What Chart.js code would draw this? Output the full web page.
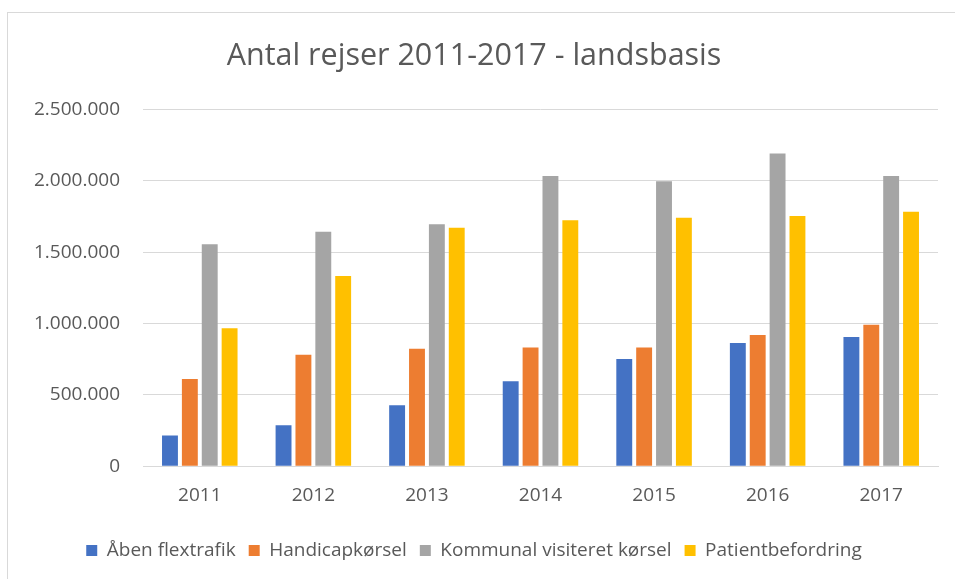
<!DOCTYPE html>
<html>
<head>
<meta charset="utf-8">
<script src="https://cdn.jsdelivr.net/npm/chart.js@4"></script>
<style>
    body { margin: 0; background: #fff; }
    #frame { position: absolute; left: 7px; top: 12px; width: 1000px; height: 600px;
             border-left: 1px solid #d9d9d9; border-top: 1px solid #d9d9d9; }
    #wrap { position: absolute; left: 0; top: 0; width: 955px; height: 579px; }
</style>
</head>
<body>
<div id="frame"></div>
<div id="wrap"><canvas id="grafico"></canvas></div>
<script>
const YEARS = ['2011', '2012', '2013', '2014', '2015', '2016', '2017'];

const aabenFlextrafik = [216000, 287000, 427000, 596000, 751000, 864000, 906000];
const handicapkoersel = [611000, 782000, 824000, 833000, 833000, 920000, 991000];
const kommunalVisiteret = [1556000, 1643000, 1697000, 2035000, 1998000, 2192000, 2035000];
const patientbefordring = [967000, 1333000, 1671000, 1725000, 1742000, 1754000, 1784000];

const Y_TICKS = [0, 500000, 1000000, 1500000, 2000000, 2500000];

const FONT = "'Open Sans', sans-serif";
const TEXT = '#595959';

// dansk tusindtalsseparator
function fmt(v) {
    return String(v).replace(/\B(?=(\d{3})+(?!\d))/g, '.');
}

function serie(label, values, color) {
    return {
        label: label,
        data: values,
        backgroundColor: color,
        borderWidth: 0,
        categoryPercentage: 0.7,
        barPercentage: 0.8
    };
}

const data = {
    labels: YEARS,
    datasets: [
        serie('Åben flextrafik', aabenFlextrafik, '#4472C4'),
        serie('Handicapkørsel', handicapkoersel, '#ED7D31'),
        serie('Kommunal visiteret kørsel', kommunalVisiteret, '#A5A5A5'),
        serie('Patientbefordring', patientbefordring, '#FFC000')
    ]
};

const CHART = document.getElementById('grafico');
new Chart(CHART, {
    type: 'bar',
    data: data,
    options: {
        responsive: true,
        maintainAspectRatio: false,
        animation: false,
        layout: { padding: { left: 10, right: 17, top: 38, bottom: 9 } },
        scales: {
            x: {
                grid: { display: false, drawTicks: false },
                border: { color: '#d9d9d9' },
                ticks: { color: TEXT, font: { family: FONT, size: 19 }, padding: 18 },
                afterFit: axis => { axis.height += 3; }
            },
            y: {
                min: 0,
                max: 2500000,
                afterBuildTicks: axis => { axis.ticks = Y_TICKS.map(v => ({ value: v })); },
                afterFit: axis => { axis.width = 133; },
                grid: { color: '#d9d9d9', drawTicks: false },
                border: { display: false },
                ticks: {
                    color: TEXT,
                    font: { family: FONT, size: 19 },
                    padding: 23,
                    callback: v => fmt(v)
                }
            }
        },
        plugins: {
            title: {
                display: true,
                text: 'Antal rejser 2011-2017 - landsbasis',
                color: TEXT,
                font: { family: FONT, size: 30.5, weight: 'normal' },
                padding: { top: 0, bottom: 35 }
            },
            legend: {
                position: 'bottom',
                labels: {
                    color: TEXT,
                    font: { family: FONT, size: 19 },
                    boxWidth: 11,
                    boxHeight: 11,
                    padding: 13
                }
            },
            tooltip: { enabled: false }
        }
    }
});
</script>
</body>
</html>
